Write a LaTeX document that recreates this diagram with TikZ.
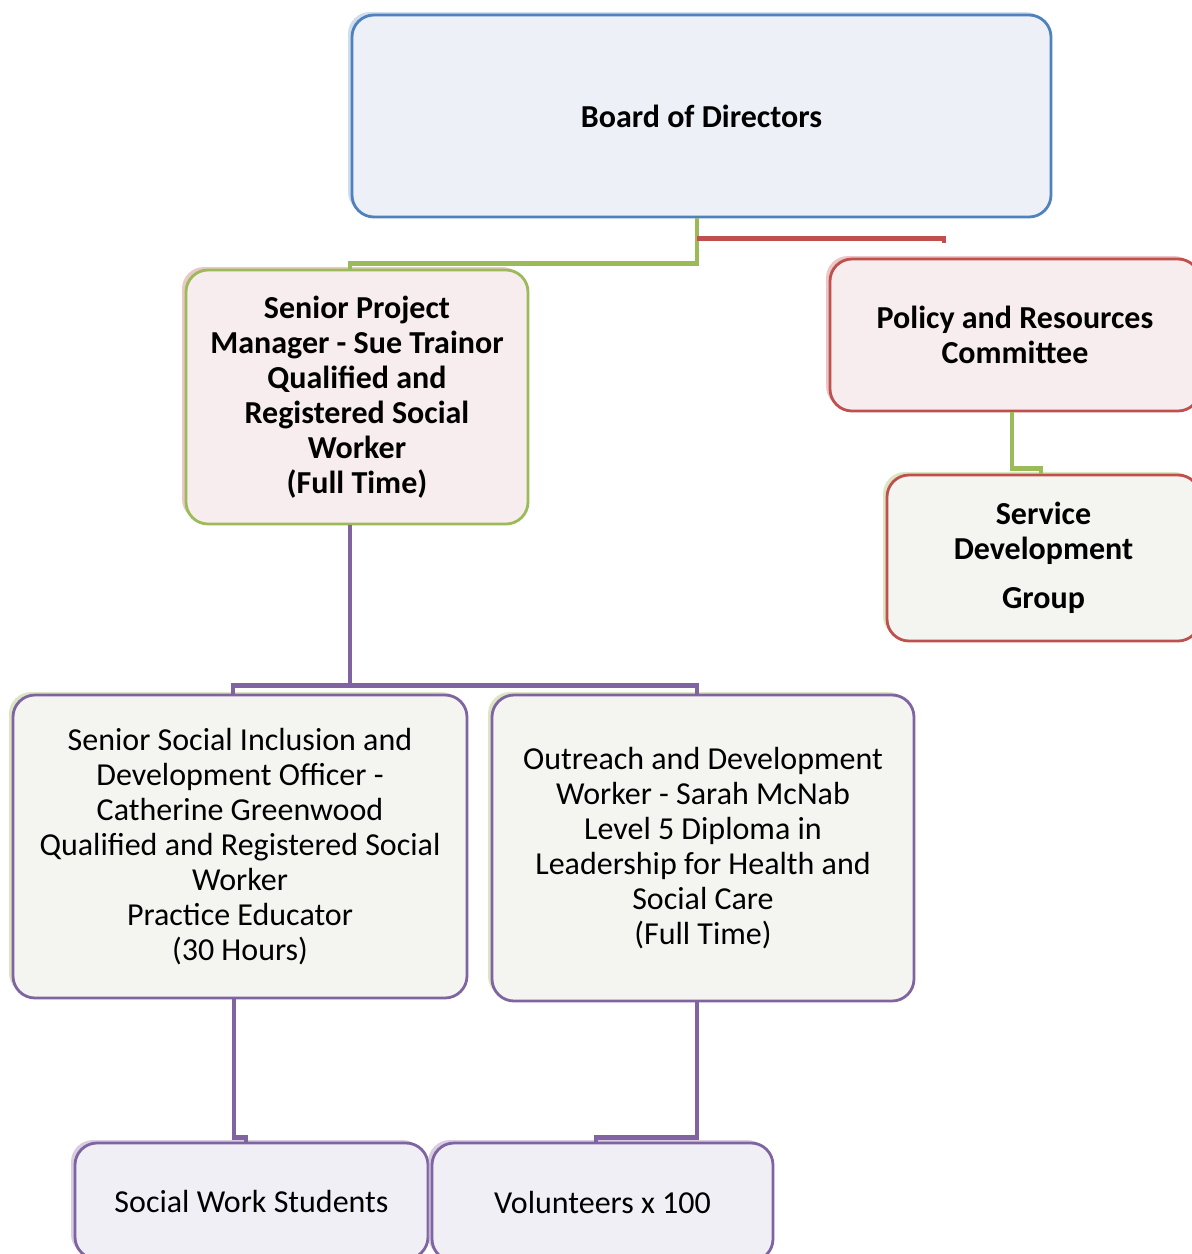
\documentclass[tikz,border=0pt]{standalone}
\usepackage{fontspec}
\setmainfont{Carlito}
\usetikzlibrary{shadows}
\definecolor{cblue}{HTML}{4F81BD}
\definecolor{cgreen}{HTML}{9BBB59}
\definecolor{cred}{HTML}{C0504D}
\definecolor{cpurple}{HTML}{8064A2}
\definecolor{fblue}{HTML}{EEF0F8}
\definecolor{fpink}{HTML}{F7ECEE}
\definecolor{fgrey}{HTML}{F4F4F0}
\definecolor{flav}{HTML}{F0EFF6}
\begin{document}
\begin{tikzpicture}[x=1pt,y=-1pt,
  box/.style={rectangle,rounded corners=22pt,line width=2.8pt,inner sep=0pt,align=center,
    font=\fontsize{32}{35}\selectfont},
  boldbox/.style={box,font=\fontsize{32}{35}\selectfont\bfseries},
  shad/.style={general shadow={shadow xshift=-4pt,shadow yshift=3pt,fill=#1,opacity=0.45}},
  conn/.style={line width=4.6pt},
  gl/.style={conn,draw=cgreen},
  rl/.style={conn,draw=cred},
  pl/.style={conn,draw=cpurple}]
\useasboundingbox (0,0) rectangle (1192,1254);
\node[boldbox,draw=cblue,fill=fblue,shad=cblue!60,minimum width=699pt,minimum height=202pt] (board) at (701.5,116) {Board of Directors};
\node[boldbox,draw=cgreen,fill=fpink,shad=cred!70,minimum width=342pt,minimum height=254pt] (spm) at (357,397)
  {Senior Project\\Manager - Sue Trainor\\Qualified and\\Registered Social\\Worker\\(Full Time)};
\node[boldbox,draw=cred,fill=fpink,shad=cred!70,minimum width=370pt,minimum height=152pt] (pol) at (1015,335)
  {Policy and Resources\\Committee};
\node[boldbox,draw=cred,fill=fgrey,shad=cgreen!80,minimum width=313pt,minimum height=166pt] (svc) at (1043.5,558)
  {Service\\Development\\[14pt]Group};
\node[box,draw=cpurple,fill=fgrey,shad=cgreen!80,minimum width=454pt,minimum height=303pt] (ssi) at (240,846.5)
  {Senior Social Inclusion and\\Development Officer -\\Catherine Greenwood\\Qualified and Registered Social\\Worker\\Practice Educator\\(30 Hours)};
\node[box,draw=cpurple,fill=fgrey,shad=cgreen!80,minimum width=422pt,minimum height=306pt] (odw) at (703,848)
  {Outreach and Development\\Worker - Sarah McNab\\Level 5 Diploma in\\Leadership for Health and\\Social Care\\(Full Time)};
\node[box,draw=cpurple,fill=flav,shad=cpurple!70,minimum width=353pt,minimum height=116pt] (sws) at (251.5,1201)
  {Social Work Students};
\node[box,draw=cpurple,fill=flav,shad=cpurple!70,minimum width=341pt,minimum height=118pt] (vol) at (602.5,1202)
  {Volunteers x 100};
% connectors
\draw[gl] ([xshift=-4.5pt]board.south) -- ++(0,45) -| ([xshift=-7pt]spm.north);
\draw[rl] ([xshift=-4.5pt,yshift=-20pt]board.south) -| ([xshift=-71pt,yshift=15pt]pol.north);
\draw[gl] ([xshift=-3pt]pol.south) -- ++(0,56) -| ([xshift=-2.5pt]svc.north);
\draw[pl] ([xshift=-7pt]spm.south) -- ([xshift=-7pt,yshift=8pt]spm.south |- ssi.north);
\draw[pl] ([xshift=-7pt]ssi.north) -- ++(0,-8) -| ([xshift=-6pt]odw.north);
\draw[pl] ([xshift=-6pt]ssi.south) -- ++(0,138) -| ([xshift=-5.5pt]sws.north);
\draw[pl] ([xshift=-6pt]odw.south) -- ++(0,135) -| ([xshift=-6.5pt]vol.north);
\end{tikzpicture}
\end{document}
